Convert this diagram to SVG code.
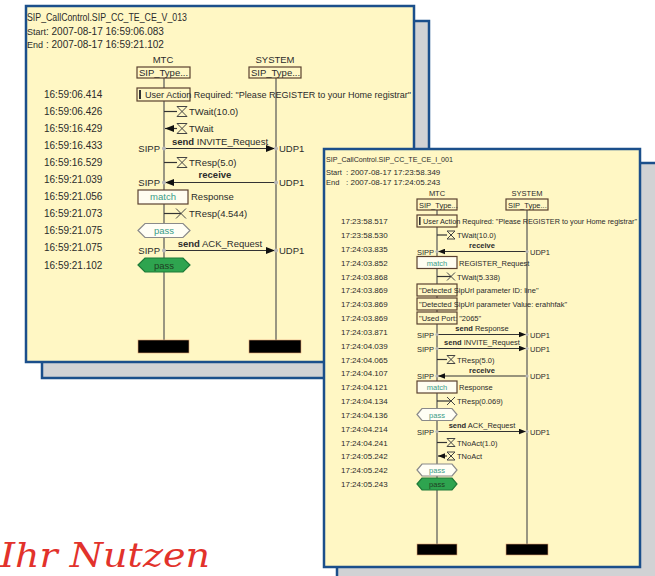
<svg xmlns="http://www.w3.org/2000/svg" width="655" height="576" viewBox="0 0 655 576">
<style>
.pnl{fill:#fff7c4;stroke:#1b4f8b;stroke-width:2.5}
.shd{fill:#d1d2d4;stroke:#1b4f8b;stroke-width:2.5}
.t{font-family:"Liberation Sans",Arial,sans-serif;fill:#2b2b2b}
.b{font-weight:bold}
.ll{stroke:#555;stroke-width:1.2}
.box{fill:#fff7c4;stroke:#5b4130;stroke-width:1.2}
.mbox{fill:#fffdf0;stroke:#5b4130;stroke-width:1.2}
.msg{stroke:#333;stroke-width:1.2;fill:none}
.hg{fill:none;stroke:#444;stroke-width:1}
.mt{fill:#3a9c88}
.hexo{fill:#fffef5;stroke:#8a8a8a;stroke-width:1.2}
.hexg{fill:#2ea44f;stroke:#1e7a38;stroke-width:1.2}
.blk{fill:#000;stroke:#e0a070;stroke-width:0.6}
.dot{fill:#b5b5b5}
.nut{font-family:"DejaVu Serif","Liberation Serif",serif;font-style:italic;fill:#e2322b}
</style>
<defs>
<marker id="ahL" markerUnits="userSpaceOnUse" markerWidth="9" markerHeight="7" refX="9" refY="3.5" orient="auto"><path d="M0,0 L9,3.5 L0,7 Z" fill="#111"/></marker>
<marker id="ahS" markerUnits="userSpaceOnUse" markerWidth="7" markerHeight="6" refX="7" refY="3" orient="auto"><path d="M0,0.2 L7,3 L0,5.8 Z" fill="#111"/></marker>
</defs>

<!-- LEFT PANEL -->
<g id="panel-left">
<rect class="shd" x="42" y="21" width="387" height="357"/>
<rect class="pnl" x="26" y="6" width="388" height="356"/>
<g class="t" font-size="10">
<text x="27" y="21" textLength="160" lengthAdjust="spacingAndGlyphs">SIP_CallControl.SIP_CC_TE_CE_V_013</text>
<text x="27" y="35" font-size="9">Start<tspan x="46" font-size="10">: 2007-08-17 16:59:06.083</tspan></text>
<text x="27" y="48" font-size="9">End<tspan x="46" font-size="10">: 2007-08-17 16:59:21.102</tspan></text>
</g>
<g class="t" font-size="10">
<text x="44" y="98">16:59:06.414</text>
<text x="44" y="115">16:59:06.426</text>
<text x="44" y="132">16:59:16.429</text>
<text x="44" y="149">16:59:16.433</text>
<text x="44" y="166">16:59:16.529</text>
<text x="44" y="183">16:59:21.039</text>
<text x="44" y="200">16:59:21.056</text>
<text x="44" y="217">16:59:21.073</text>
<text x="44" y="234">16:59:21.075</text>
<text x="44" y="251">16:59:21.075</text>
<text x="44" y="268.5">16:59:21.102</text>
</g>
<g id="L-MTC">
<line class="ll" x1="164" y1="78" x2="164" y2="340"/>
<text class="t" font-size="9.5" x="163" y="63" text-anchor="middle">MTC</text>
<rect class="box" x="137" y="67" width="53" height="11"/>
<text class="t" font-size="9.5" x="139" y="76">SIP_Type...</text>
<rect class="blk" x="138" y="340" width="51" height="13"/>
</g>
<g id="L-SYSTEM">
<line class="ll" x1="276" y1="78" x2="276" y2="340"/>
<text class="t" font-size="9.5" x="275" y="63" text-anchor="middle">SYSTEM</text>
<rect class="box" x="249" y="67" width="52" height="11"/>
<text class="t" font-size="9.5" x="251" y="76">SIP_Type...</text>
<rect class="blk" x="249" y="340" width="52" height="13"/>
</g>
<g id="L-events" class="t" font-size="9.5">
<rect class="box" x="137" y="88" width="53" height="13"/>
<rect x="139" y="90" width="2" height="9" fill="#333"/>
<text x="145" y="98" textLength="266" lengthAdjust="spacingAndGlyphs">User Action Required: "Please REGISTER to your Home registrar"</text>
<rect class="mbox" x="138" y="190" width="50" height="14"/>
<text class="mt" x="163" y="200" text-anchor="middle">match</text>
<text x="191" y="200">Response</text>
<polygon class="hexo" points="138,230.5 145,223.5 183,223.5 190,230.5 183,237.5 145,237.5"/>
<text class="mt" x="164" y="234" text-anchor="middle">pass</text>
<polygon class="hexg" points="138,265 145,258 183,258 190,265 183,272 145,272"/>
<text x="164" y="268.5" text-anchor="middle" fill="#1f3f22">pass</text>
<text x="189" y="115">TWait(10.0)</text>
<text x="189" y="132">TWait</text>
<text x="189" y="166">TResp(5.0)</text>
<text x="189" y="217">TResp(4.544)</text>
<text x="160" y="152" text-anchor="end">SIPP</text><text x="279" y="152">UDP1</text>
<text x="160" y="186" text-anchor="end">SIPP</text><text x="279" y="186">UDP1</text>
<text x="160" y="254" text-anchor="end">SIPP</text><text x="279" y="254">UDP1</text>
<text x="220" y="144.5" text-anchor="middle"><tspan class="b">send</tspan> INVITE_Request</text>
<text x="215" y="177.5" text-anchor="middle" class="b">receive</text>
<text x="220" y="246.5" text-anchor="middle"><tspan class="b">send</tspan> ACK_Request</text>
</g>
<g id="L-connectors">
<line class="msg" x1="164" y1="111.5" x2="177" y2="111.5"/>
<path class="hg" d="M177,106.5 H187 L177,116.5 H187 Z"/>
<line class="msg" x1="177" y1="128.5" x2="165" y2="128.5" marker-end="url(#ahL)"/>
<path class="hg" d="M177,123.5 H187 L177,133.5 H187 Z"/>
<line class="msg" x1="164" y1="148.5" x2="275" y2="148.5" marker-end="url(#ahL)"/>
<circle class="dot" cx="164" cy="148.5" r="2"/><circle class="dot" cx="276" cy="148.5" r="2"/>
<line class="msg" x1="164" y1="162.5" x2="177" y2="162.5"/>
<path class="hg" d="M177,157.5 H187 L177,167.5 H187 Z"/>
<line class="msg" x1="276" y1="182.5" x2="165" y2="182.5" marker-end="url(#ahL)"/>
<circle class="dot" cx="164" cy="182.5" r="2"/><circle class="dot" cx="276" cy="182.5" r="2"/>
<line class="msg" x1="164" y1="213.5" x2="181" y2="213.5"/>
<path class="hg" d="M176,208.5 L186,218.5 M176,218.5 L186,208.5"/>
<line class="msg" x1="164" y1="250.5" x2="275" y2="250.5" marker-end="url(#ahL)"/>
<circle class="dot" cx="164" cy="250.5" r="2"/><circle class="dot" cx="276" cy="250.5" r="2"/>
</g>
</g>

<!-- RIGHT PANEL -->
<g id="panel-right">
<rect class="shd" x="337" y="163" width="330" height="420"/>
<rect class="pnl" x="324" y="149" width="316" height="418"/>
<g class="t" font-size="8">
<text x="326" y="162" textLength="127" lengthAdjust="spacingAndGlyphs">SIP_CallControl.SIP_CC_TE_CE_I_001</text>
<text x="326" y="174.5" font-size="7.5">Start<tspan x="346" font-size="8">: 2007-08-17 17:23:58.349</tspan></text>
<text x="326" y="184.5" font-size="7.5">End<tspan x="346" font-size="8">: 2007-08-17 17:24:05.243</tspan></text>
</g>
<g class="t" font-size="8">
<text x="341" y="224">17:23:58.517</text>
<text x="341" y="238">17:23:58.530</text>
<text x="341" y="251.5">17:24:03.835</text>
<text x="341" y="265.5">17:24:03.852</text>
<text x="341" y="279.5">17:24:03.868</text>
<text x="341" y="293">17:24:03.869</text>
<text x="341" y="307">17:24:03.869</text>
<text x="341" y="321">17:24:03.869</text>
<text x="341" y="334.5">17:24:03.871</text>
<text x="341" y="348.5">17:24:04.039</text>
<text x="341" y="362.5">17:24:04.065</text>
<text x="341" y="376">17:24:04.107</text>
<text x="341" y="390">17:24:04.121</text>
<text x="341" y="404">17:24:04.134</text>
<text x="341" y="417.5">17:24:04.136</text>
<text x="341" y="431.5">17:24:04.214</text>
<text x="341" y="445.5">17:24:04.241</text>
<text x="341" y="459">17:24:05.242</text>
<text x="341" y="473">17:24:05.242</text>
<text x="341" y="487">17:24:05.243</text>
</g>
<g id="R-MTC">
<line class="ll" x1="437" y1="210" x2="437" y2="544"/>
<text class="t" font-size="7.5" x="437" y="196" text-anchor="middle">MTC</text>
<rect class="box" x="417" y="199" width="40" height="11"/>
<text class="t" font-size="7.5" x="419" y="207.5">SIP_Type...</text>
<rect class="blk" x="417" y="544" width="40" height="11"/>
</g>
<g id="R-SYSTEM">
<line class="ll" x1="527" y1="210" x2="527" y2="544"/>
<text class="t" font-size="7.5" x="527" y="196" text-anchor="middle">SYSTEM</text>
<rect class="box" x="506" y="199" width="42" height="11"/>
<text class="t" font-size="7.5" x="508" y="207.5">SIP_Type...</text>
<rect class="blk" x="506" y="544" width="42" height="11"/>
</g>
<g id="R-events" class="t" font-size="7.5">
<rect class="box" x="417" y="215" width="40" height="12"/>
<rect x="419" y="217" width="1.6" height="8" fill="#333"/>
<text x="423" y="224" textLength="214" lengthAdjust="spacingAndGlyphs">User Action Required: "Please REGISTER to your Home registrar"</text>
<text x="457" y="238">TWait(10.0)</text>
<text x="482" y="248" text-anchor="middle" class="b">receive</text>
<text x="434" y="254.5" text-anchor="end">SIPP</text><text x="530" y="254.5">UDP1</text>
<rect class="mbox" x="417" y="256.5" width="40" height="12"/>
<text class="mt" x="437" y="265.5" text-anchor="middle">match</text>
<text x="459" y="265.5">REGISTER_Request</text>
<text x="457" y="279.5">TWait(5.338)</text>
<rect class="box" x="417" y="284" width="40" height="12"/>
<text x="419" y="293">"Detected SipUrl parameter ID: line"</text>
<rect class="box" x="417" y="298" width="40" height="12"/>
<text x="419" y="307">"Detected SipUrl parameter Value: erahhfak"</text>
<rect class="box" x="417" y="312" width="40" height="12"/>
<text x="419" y="321">"Used Port: "2065"</text>
<text x="482" y="331" text-anchor="middle"><tspan class="b">send</tspan> Response</text>
<text x="434" y="337.5" text-anchor="end">SIPP</text><text x="530" y="337.5">UDP1</text>
<text x="482" y="345" text-anchor="middle"><tspan class="b">send</tspan> INVITE_Request</text>
<text x="434" y="351.5" text-anchor="end">SIPP</text><text x="530" y="351.5">UDP1</text>
<text x="457" y="362.5">TResp(5.0)</text>
<text x="482" y="372.5" text-anchor="middle" class="b">receive</text>
<text x="434" y="379" text-anchor="end">SIPP</text><text x="530" y="379">UDP1</text>
<rect class="mbox" x="417" y="381" width="40" height="12"/>
<text class="mt" x="437" y="390" text-anchor="middle">match</text>
<text x="459" y="390">Response</text>
<text x="457" y="404">TResp(0.069)</text>
<polygon class="hexo" points="417,414.5 422,408.5 452,408.5 457,414.5 452,420.5 422,420.5"/>
<text class="mt" x="437" y="417.5" text-anchor="middle">pass</text>
<text x="482" y="428" text-anchor="middle"><tspan class="b">send</tspan> ACK_Request</text>
<text x="434" y="434.5" text-anchor="end">SIPP</text><text x="530" y="434.5">UDP1</text>
<text x="457" y="445.5">TNoAct(1.0)</text>
<text x="457" y="459">TNoAct</text>
<polygon class="hexo" points="417,470 422,464 452,464 457,470 452,476 422,476"/>
<text class="mt" x="437" y="473" text-anchor="middle">pass</text>
<polygon class="hexg" points="417,484 422,478 452,478 457,484 452,490 422,490"/>
<text x="437" y="487" text-anchor="middle" fill="#1f3f22">pass</text>
</g>
<g id="R-connectors">
<line class="msg" x1="437" y1="235" x2="447" y2="235"/>
<path class="hg" d="M447,231 H455 L447,239 H455 Z"/>
<line class="msg" x1="527" y1="251.5" x2="438" y2="251.5" marker-end="url(#ahS)"/>
<circle class="dot" cx="437" cy="251.5" r="1.6"/><circle class="dot" cx="527" cy="251.5" r="1.6"/>
<line class="msg" x1="437" y1="276.5" x2="451" y2="276.5"/>
<path class="hg" d="M447,272.5 L455,280.5 M447,280.5 L455,272.5"/>
<line class="msg" x1="437" y1="334.5" x2="526" y2="334.5" marker-end="url(#ahS)"/>
<circle class="dot" cx="437" cy="334.5" r="1.6"/><circle class="dot" cx="527" cy="334.5" r="1.6"/>
<line class="msg" x1="437" y1="348.5" x2="526" y2="348.5" marker-end="url(#ahS)"/>
<circle class="dot" cx="437" cy="348.5" r="1.6"/><circle class="dot" cx="527" cy="348.5" r="1.6"/>
<line class="msg" x1="437" y1="359.5" x2="447" y2="359.5"/>
<path class="hg" d="M447,355.5 H455 L447,363.5 H455 Z"/>
<line class="msg" x1="527" y1="376" x2="438" y2="376" marker-end="url(#ahS)"/>
<circle class="dot" cx="437" cy="376" r="1.6"/><circle class="dot" cx="527" cy="376" r="1.6"/>
<line class="msg" x1="437" y1="401" x2="451" y2="401"/>
<path class="hg" d="M447,397 L455,405 M447,405 L455,397"/>
<line class="msg" x1="437" y1="431.5" x2="526" y2="431.5" marker-end="url(#ahS)"/>
<circle class="dot" cx="437" cy="431.5" r="1.6"/><circle class="dot" cx="527" cy="431.5" r="1.6"/>
<line class="msg" x1="437" y1="442.5" x2="447" y2="442.5"/>
<path class="hg" d="M447,438.5 H455 L447,446.5 H455 Z"/>
<line class="msg" x1="447" y1="456" x2="438" y2="456" marker-end="url(#ahS)"/>
<path class="hg" d="M447,452 H455 L447,460 H455 Z"/>
</g>
</g>

<text class="nut" x="0" y="567" font-size="33" textLength="210" lengthAdjust="spacingAndGlyphs">Ihr Nutzen</text>
</svg>
